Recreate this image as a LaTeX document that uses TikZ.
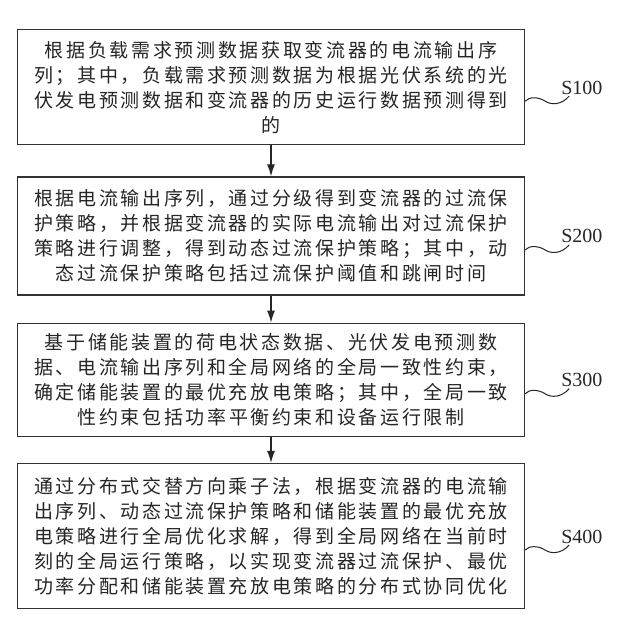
\documentclass[tikz,border=0pt]{standalone}
\usepackage{fontspec}
\setmainfont{Liberation Serif}
\newfontfamily\cjk[LetterSpace=14]{Noto Sans CJK SC}
\usetikzlibrary{positioning,arrows.meta}

\begin{document}
\begin{tikzpicture}[x=1pt,y=1pt,
    stepbox/.style={draw=black!80, line width=1.3pt, minimum width=507pt,
        align=center, inner sep=0pt, text=black!85,
        font=\cjk\fontsize{19}{25}\selectfont},
    flow/.style={-{Latex[length=12pt,width=8pt]}, line width=1.2pt, draw=black!85},
    wave/.style={line width=1pt, draw=black!85},
    steplabel/.style={font=\fontsize{20}{24}\selectfont, inner sep=0pt, text=black!85}]

    % Fix the canvas
    \useasboundingbox[fill=white] (0,0) rectangle (640,-624);

    % The four steps
    \node[stepbox, minimum height=115pt, anchor=north] (box1) at (271,-29)
        {根据负载需求预测数据获取变流器的电流输出序\\
         列；其中，负载需求预测数据为根据光伏系统的光\\
         伏发电预测数据和变流器的历史运行数据预测得到\\
         的};
    \node[stepbox, minimum height=118pt, below=31pt of box1] (box2)
        {根据电流输出序列，通过分级得到变流器的过流保\\
         护策略，并根据变流器的实际电流输出对过流保护\\
         策略进行调整，得到动态过流保护策略；其中，动\\
         态过流保护策略包括过流保护阈值和跳闸时间};
    \node[stepbox, minimum height=113pt, below=27pt of box2] (box3)
        {基于储能装置的荷电状态数据、光伏发电预测数\\
         据、电流输出序列和全局网络的全局一致性约束，\\
         确定储能装置的最优充放电策略；其中，全局一致\\
         性约束包括功率平衡约束和设备运行限制};
    \node[stepbox, minimum height=145pt, below=26pt of box3] (box4)
        {通过分布式交替方向乘子法，根据变流器的电流输\\
         出序列、动态过流保护策略和储能装置的最优充放\\
         电策略进行全局优化求解，得到全局网络在当前时\\
         刻的全局运行策略，以实现变流器过流保护、最优\\
         功率分配和储能装置充放电策略的分布式协同优化};

    % Arrows between the steps
    \draw[flow] (box1) -- (box2);
    \draw[flow] (box2) -- (box3);
    \draw[flow] (box3) -- (box4);

    % Step labels with their wavy leaders
    \foreach \n in {1,...,4} {
        \node[steplabel, anchor=base west] (lbl\n) at ([xshift=36pt,yshift=-7pt]box\n.east) {S\n00};
        \coordinate (w\n) at ([yshift=-14pt]box\n.east);
        \draw[wave] (w\n) .. controls ([shift={(4,5)}]w\n) and ([shift={(14,4)}]w\n) .. ([shift={(20,0)}]w\n)
            .. controls ([shift={(26,-4)}]w\n) and ([shift={(36,-4)}]w\n) .. ([shift={(44,5)}]w\n);
    }

\end{tikzpicture}
\end{document}
